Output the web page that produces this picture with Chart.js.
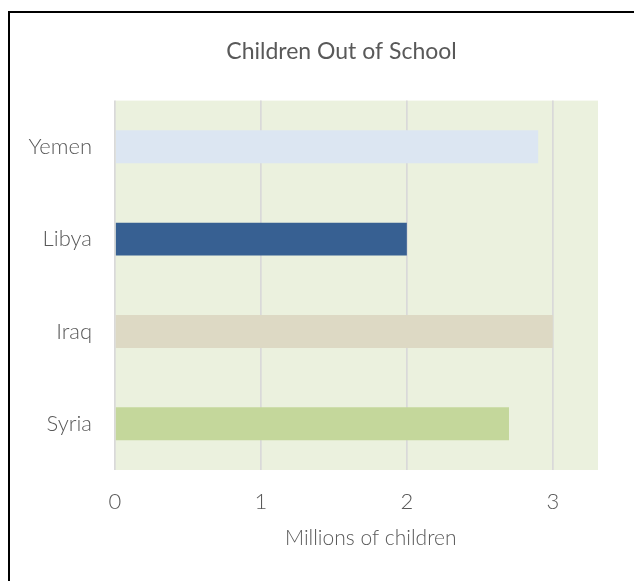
<!DOCTYPE html>
<html>
<head>
<meta charset="utf-8">
<script src="https://cdn.jsdelivr.net/npm/chart.js@4"></script>
<style>
  html, body { margin: 0; padding: 0; background: #ffffff; overflow: hidden; width: 634px; height: 581px; }
  #wrap { position: relative; width: 634px; height: 581px; overflow: hidden; }
  #frame { position: absolute; left: 8px; top: 11px; width: 700px; height: 700px; border: 2px solid #000; box-sizing: border-box; }
  canvas { position: absolute; left: 0; top: 0; }
</style>
</head>
<body>
<div id="wrap">
  <div id="frame"></div>
  <canvas id="c" width="634" height="581"></canvas>
</div>
<script>
const categories = ['Yemen', 'Libya', 'Iraq', 'Syria'];
const childrenOutOfSchool = [2.9, 2.0, 3.0, 2.7];
const barColors = ['#DCE6F2', '#376092', '#DDD9C4', '#C4D79B'];
const xTickValues = [0, 1, 2, 3];
const xAxisMax = 3.31;

const FONT = "Lato, 'Open Sans', sans-serif";
const TEXT = '#595959';

const plotBg = {
  id: 'plotBg',
  beforeDraw(chart) {
    const {ctx, chartArea: a} = chart;
    ctx.save();
    ctx.fillStyle = '#EBF1DE';
    ctx.fillRect(a.left, a.top, a.right - a.left, a.bottom - a.top);
    ctx.restore();
  }
};

// Centre the title on the whole chart frame rather than the canvas area left of the padding
const titleCentre = {
  id: 'titleCentre',
  afterLayout(chart) {
    const t = chart.titleBlock;
    if (t) { t.left = 85; t.right = chart.chartArea.right; }
  }
};

new Chart(document.getElementById('c'), {
  type: 'bar',
  data: {
    labels: categories,
    datasets: [{
      label: 'Children Out of School',
      data: childrenOutOfSchool,
      backgroundColor: barColors,
      borderWidth: 0,
      barPercentage: 0.357,
      categoryPercentage: 1
    }]
  },
  options: {
    indexAxis: 'y',
    responsive: false,
    animation: false,
    devicePixelRatio: 1,
    layout: { padding: { left: 0, right: 36, top: 0, bottom: 0 } },
    plugins: {
      legend: { display: false },
      tooltip: { enabled: false },
      title: {
        display: true,
        text: 'Children Out of School',
        color: TEXT,
        font: { family: FONT, size: 23, weight: 400, lineHeight: 1.2 },
        padding: { top: 38, bottom: 35 }
      }
    },
    scales: {
      x: {
        min: 0,
        max: xAxisMax,
        afterBuildTicks(scale) {
          scale.ticks = xTickValues.map(v => ({ value: v }));
        },
        afterFit(scale) { scale.height = 111; },
        border: { display: false },
        grid: { color: '#D9D9D9', lineWidth: 1.7, drawTicks: false },
        ticks: {
          color: TEXT,
          padding: 19,
          font: { family: FONT, size: 22, weight: 300 }
        },
        title: {
          display: true,
          text: '     Millions of children',
          color: TEXT,
          font: { family: FONT, size: 21, weight: 300, lineHeight: 1.2 },
          padding: { top: 0, bottom: 30 }
        }
      },
      y: {
        afterFit(scale) { scale.width = 115; },
        border: { display: false },
        grid: { display: false, drawTicks: false },
        ticks: {
          color: TEXT,
          padding: 23,
          font: { family: FONT, size: 22, weight: 300 }
        }
      }
    }
  },
  plugins: [plotBg, titleCentre]
});
</script>
</body>
</html>
